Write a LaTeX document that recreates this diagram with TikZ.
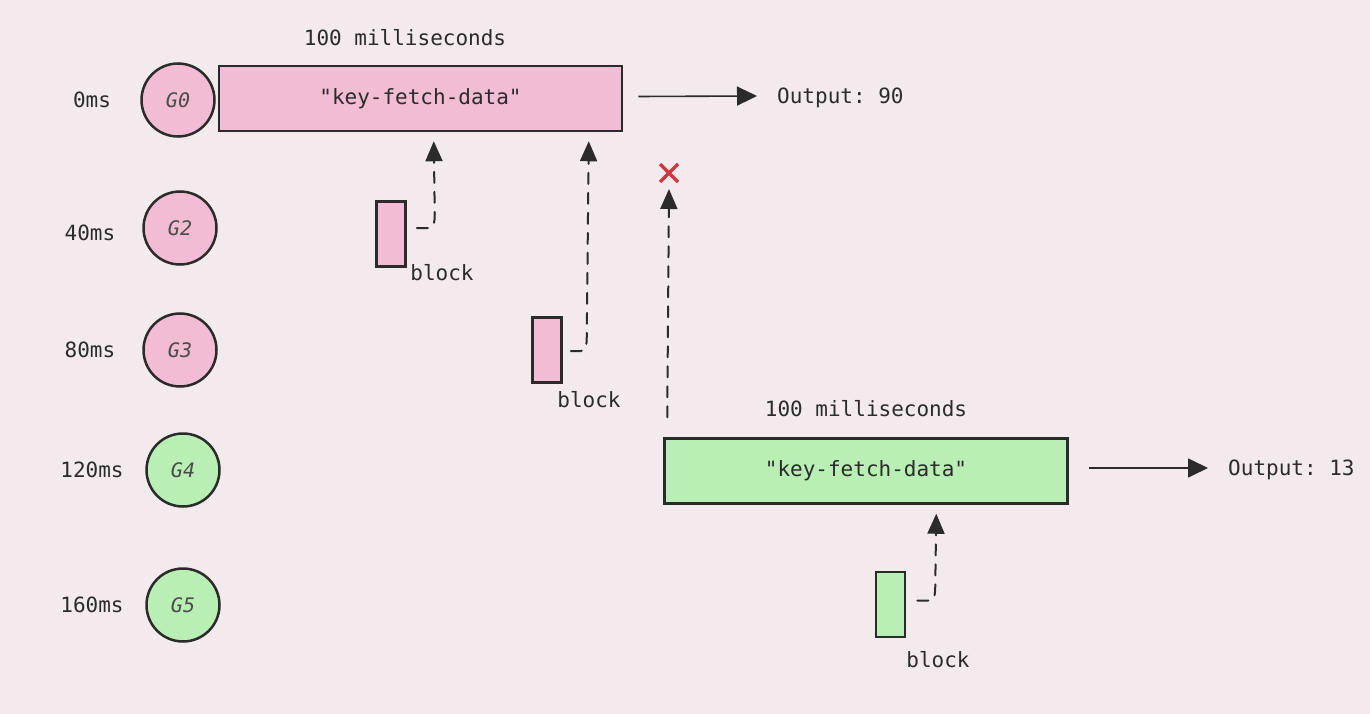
\documentclass[tikz,border=0pt]{standalone}
\usepackage{fontspec}
\setmonofont{DejaVu Sans Mono}
\usetikzlibrary{arrows.meta,calc}
\definecolor{bg}{HTML}{F3EAEE}
\definecolor{pinkf}{HTML}{F1BCD4}
\definecolor{greenf}{HTML}{B9EFB4}
\definecolor{ink}{HTML}{2B2B2B}
\definecolor{redx}{HTML}{D0393B}
\tikzset{
  lbl/.style={font=\ttfamily\fontsize{21}{25}\selectfont, text=ink, inner sep=0pt},
  gor/.style={circle, draw=ink, line width=2.5pt, minimum size=73pt, inner sep=0pt,
    font=\ttfamily\itshape\fontsize{20}{24}\selectfont, text=ink!85},
  gpink/.style={gor, fill=pinkf},
  ggreen/.style={gor, fill=greenf},
  bigbox/.style={rectangle, draw=ink, line width=2.5pt, minimum width=403pt, minimum height=65pt,
    inner sep=0pt, font=\ttfamily\fontsize{21}{25}\selectfont, text=ink},
  blk/.style={rectangle, draw=ink, line width=2.5pt, minimum width=29pt, minimum height=65pt, inner sep=0pt},
  dashline/.style={draw=ink, line width=2pt, dash pattern=on 11pt off 9pt, line cap=round,
    -{Triangle[length=20pt,width=17pt]}},
  outarrow/.style={draw=ink, line width=1.6pt, -{Triangle[length=20pt,width=19pt]}},
}
\begin{document}
\begin{tikzpicture}[x=1pt,y=-1pt]
\fill[bg] (0,0) rectangle (1370,714);
\useasboundingbox (0,0) rectangle (1370,714);

% time labels
\node[lbl] (t0) at (92,100) {0ms};
\node[lbl] (t1) at (90,233) {40ms};
\node[lbl] (t2) at (90,350) {80ms};
\node[lbl] (t3) at (92,470) {120ms};
\node[lbl] (t4) at (92,605) {160ms};

% goroutines
\node[gpink] (g0) at (178,100) {G0};
\node[gpink] (g2) at (180,228) {G2};
\node[gpink] (g3) at (180,350) {G3};
\node[ggreen] (g4) at (183,470) {G4};
\node[ggreen] (g5) at (183,605) {G5};

% big boxes
\node[bigbox, fill=pinkf] (k1) at (420.5,98.5) {"key-fetch-data"};
\node[lbl] (m1) at (405,38) {100 milliseconds};
\node[bigbox, fill=greenf] (k2) at (866,471) {"key-fetch-data"};
\node[lbl] (m2) at (866,409) {100 milliseconds};

% outputs
\node[lbl, anchor=west] (o1) at (777,98) {Output: 90};
\draw[outarrow] ($(k1.east)+(15,-2)$) -- ($(o1.west)+(-20,-2)$);
\node[lbl, anchor=west] (o2) at (1228,470) {Output: 13};
\draw[outarrow] ($(k2.east)+(20,-3)$) -- ($(o2.west)+(-20,-2)$);

% blocks
\node[blk, fill=pinkf] (b1) at (391,234) {};
\node[lbl] (bl1) at (442,273) {block};
\node[blk, fill=pinkf] (b2) at (547,350) {};
\node[lbl] (bl2) at (589,400) {block};
\node[blk, fill=greenf] (b3) at (890.5,604.5) {};
\node[lbl] (bl3) at (938,660) {block};

% dashed arrows from blocks
\draw[dashline] ($(b1.east)+(10,-6)$) -- ++(12,0) to[out=0,in=-90] ++(6,-14)
   -- ($(k1.south west)+(216,9)$);
\draw[dashline] ($(b2.east)+(8,1)$) -- ++(10,0) to[out=0,in=-90] ++(6,-14)
   -- ($(k1.south west)+(371,9)$);
\draw[dashline] ($(b3.east)+(11,-4)$) -- ++(12,0) to[out=0,in=-90] ++(6,-14)
   -- ($(k2.south west)+(273,9)$);

% failed arrow with red cross
\coordinate (xm) at (669,173);
\draw[redx, line width=3.5pt] ($(xm)+(-9,-9)$) -- ($(xm)+(9,9)$)
   ($(xm)+(-9,9)$) -- ($(xm)+(9,-9)$);
\draw[dashline] ($(k2.north west)+(4,-20)$) -- ($(xm)+(0,16)$);
\end{tikzpicture}
\end{document}
